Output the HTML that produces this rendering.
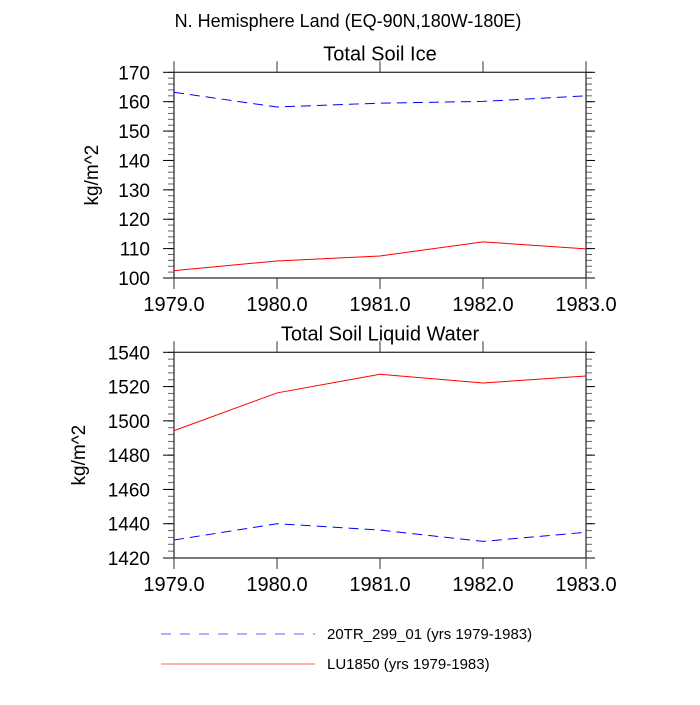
<!DOCTYPE html>
<html><head><meta charset="utf-8"><style>
body{margin:0;background:#fff;width:700px;height:700px;overflow:hidden}
svg text{font-family:"Liberation Sans",sans-serif;fill:#000}
</style></head><body>
<svg id="c" width="700" height="700" xmlns="http://www.w3.org/2000/svg">
<text x="348" y="27" font-size="18" text-anchor="middle">N. Hemisphere Land (EQ-90N,180W-180E)</text>
</svg>
<script>
const years=[1979,1980,1981,1982,1983];
const xTickLabels=["1979.0","1980.0","1981.0","1982.0","1983.0"];
const iceCtrl=[163.2,158.2,159.5,160.1,162.0];
const iceLU=[102.5,105.8,107.5,112.3,109.9];
const liqCtrl=[1430.5,1440,1436.3,1429.7,1435];
const liqLU=[1494.3,1516.3,1527.2,1522.1,1526.2];
const iceTicks=[100,110,120,130,140,150,160,170];
const liqTicks=[1420,1440,1460,1480,1500,1520,1540];
const legendLabels=["20TR_299_01 (yrs 1979-1983)","LU1850 (yrs 1979-1983)"];

const svg=document.getElementById('c');
const NS='http://www.w3.org/2000/svg';
function mk(t,a,p){const e=document.createElementNS(NS,t);for(const k in a)e.setAttribute(k,a[k]);(p||svg).appendChild(e);return e;}
const X0=174,X1=586;
function xs(v){return X0+(v-years[0])/(years[years.length-1]-years[0])*(X1-X0);}

function panel(name,title,top,bot,ticks,nMinor,ctrl,lu,ylx){
  const g=mk('g',{});
  
  
  const ymin=ticks[0],ymax=ticks[ticks.length-1];
  const ys=v=>bot-(v-ymin)/(ymax-ymin)*(bot-top);
  const t=mk('text',{x:380,y:top-12,'font-size':20,'text-anchor':'middle'},g);t.textContent=title;
  
  
  const step=(ticks[1]-ticks[0])/nMinor;
  for(let i=0;i<=(ymax-ymin)/step+0.01;i++){const y=ys(ymin+i*step);
    mk('line',{x1:X0-6,x2:X0,y1:y,y2:y,stroke:'#666','stroke-width':1},g);
    mk('line',{x1:X1,x2:X1+6,y1:y,y2:y,stroke:'#666','stroke-width':1},g);}
  ticks.forEach(v=>{const y=ys(v);
    mk('line',{x1:X0-11,x2:X0,y1:y,y2:y,stroke:'#000','stroke-width':1},g);
    mk('line',{x1:X1,x2:X1+9,y1:y,y2:y,stroke:'#000','stroke-width':1},g);
    const l=mk('text',{x:X0-24,y:y+7,'font-size':19,'text-anchor':'end'},g);l.textContent=v;
    
    });
  years.forEach((yr,i)=>{const x=xs(yr);
    mk('line',{x1:x,x2:x,y1:top-11,y2:top,stroke:'#333','stroke-width':1},g);
    mk('line',{x1:x,x2:x,y1:bot,y2:bot+11,stroke:'#333','stroke-width':1},g);
    const l=mk('text',{x:x,y:bot+33,'font-size':20,'text-anchor':'middle'},g);l.textContent=xTickLabels[i];
    
    });
  mk('rect',{x:X0,y:top,width:X1-X0,height:bot-top,fill:'none',stroke:'#333','stroke-width':1.3},g);
  const yl=mk('text',{transform:`translate(${ylx},${(top+bot)/2}) rotate(-90)`,'font-size':19,'text-anchor':'middle'},g);yl.textContent='kg/m^2';
  
  
  const p1=mk('polyline',{points:years.map((yr,i)=>xs(yr)+','+ys(ctrl[i])).join(' '),fill:'none',stroke:'#00f','stroke-width':1,'stroke-dasharray':'10,6'},g);
  
  
  const p2=mk('polyline',{points:years.map((yr,i)=>xs(yr)+','+ys(lu[i])).join(' '),fill:'none',stroke:'#f00','stroke-width':1},g);
  
  
}
panel('ice','Total Soil Ice',72.3,278,iceTicks,5,iceCtrl,iceLU,98);
panel('liquid','Total Soil Liquid Water',352.3,558,liqTicks,5,liqCtrl,liqLU,85);

const lg=mk('g',{});


[[634,'#00f','10,9'],[664,'#f00','']].forEach((r,i)=>{
  const l=mk('line',{x1:161,x2:315,y1:r[0],y2:r[0],stroke:r[1],'stroke-width':1,'stroke-dasharray':r[2],'stroke-opacity':0.6},lg);
  
  
  const t=mk('text',{x:327,y:r[0]+5,'font-size':15},lg);t.textContent=legendLabels[i];
  
  
});
</script>
</body></html>
